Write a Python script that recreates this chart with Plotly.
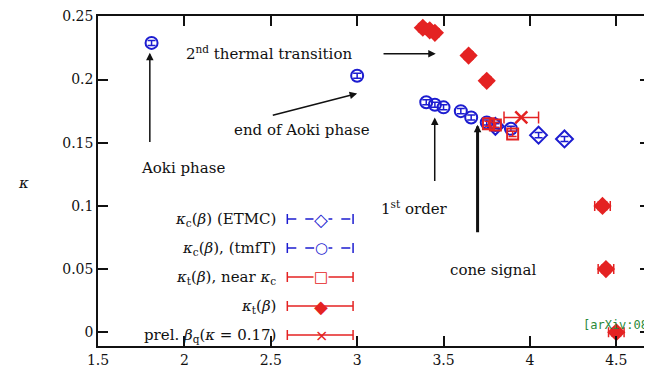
import plotly.graph_objects as go

# ---------------- data ----------------
etmc_beta = [3.80, 4.05, 4.20]
etmc_kappa = [0.163, 0.156, 0.153]

tmft_beta = [1.81, 3.00, 3.40, 3.45, 3.50, 3.60, 3.66, 3.75, 3.80, 3.89]
tmft_kappa = [0.229, 0.203, 0.182, 0.180, 0.178, 0.175, 0.170, 0.166, 0.164, 0.161]

near_beta = [3.76, 3.80, 3.90]
near_kappa = [0.165, 0.164, 0.157]

kt_beta = [3.38, 3.42, 3.45, 3.645, 3.75, 4.42, 4.44, 4.50]
kt_kappa = [0.241, 0.239, 0.237, 0.219, 0.199, 0.100, 0.050, 0.000]
kt_xerr = [0.02, 0.02, 0.02, 0.02, 0.02, 0.045, 0.045, 0.045]

bq_beta = [3.95]
bq_kappa = [0.170]
bq_xerr = [0.10]

x_ticks = [1.5, 2, 2.5, 3, 3.5, 4, 4.5]
x_ticklabels = ["1.5", "2", "2.5", "3", "3.5", "4", "4.5"]
y_ticks = [0, 0.05, 0.1, 0.15, 0.2, 0.25]
y_ticklabels = ["0", "0.05", "0.1", "0.15", "0.2", "0.25"]

legend_labels = [
    "<i>κ</i><sub>c</sub>(<i>β</i>) (ETMC)",
    "<i>κ</i><sub>c</sub>(<i>β</i>), (tmfT)",
    "<i>κ</i><sub>t</sub>(<i>β</i>), near <i>κ</i><sub>c</sub>",
    "<i>κ</i><sub>t</sub>(<i>β</i>)",
    "prel. <i>β</i><sub>q</sub>(<i>κ</i> = 0.17)",
]
legend_glyphs = ["◇", "○", "□", "◆", "×"]
legend_glyph_sizes = [18, 15, 15, 18, 16]

BLUE = "#1c1cd0"
RED = "#e42222"
FONT = "DejaVu Serif"

# page offset of the plot div (browser body margin)
OFF = 8

# ---------------- figure ----------------
fig = go.Figure()

fig.add_trace(go.Scatter(
    x=etmc_beta, y=etmc_kappa, mode="markers",
    marker=dict(symbol="diamond-open", size=13, color=BLUE, line=dict(width=2)),
    error_y=dict(type="constant", value=0.002, color=BLUE, thickness=1.5, width=4),
))
fig.add_trace(go.Scatter(
    x=tmft_beta, y=tmft_kappa, mode="markers",
    marker=dict(symbol="circle-open", size=12, color=BLUE, line=dict(width=2)),
    error_y=dict(type="constant", value=0.002, color=BLUE, thickness=1.5, width=4),
))
fig.add_trace(go.Scatter(
    x=near_beta, y=near_kappa, mode="markers",
    marker=dict(symbol="square-open", size=11, color=RED, line=dict(width=2)),
    error_y=dict(type="constant", value=0.002, color=RED, thickness=1.5, width=4),
))
fig.add_trace(go.Scatter(
    x=kt_beta, y=kt_kappa, mode="markers",
    marker=dict(symbol="diamond", size=14, color=RED),
    error_x=dict(type="data", array=kt_xerr, color=RED, thickness=1.5, width=5),
    error_y=dict(type="constant", value=0.003, color=RED, thickness=1.5, width=5),
))
fig.add_trace(go.Scatter(
    x=bq_beta, y=bq_kappa, mode="markers",
    marker=dict(symbol="x-thin-open", size=12, color=RED, line=dict(width=2.5, color=RED)),
    error_x=dict(type="data", array=bq_xerr, color=RED, thickness=1.5, width=6),
))

# ---------------- annotations ----------------
txt = dict(family=FONT, size=15, color="#111111")
ann = []
ann.append(dict(x=2.49, y=0.221, xref="x", yref="y", text="2<sup>nd</sup> thermal transition",
                showarrow=False, font=txt))
ann.append(dict(x=2.68, y=0.1597, xref="x", yref="y", text="end of Aoki phase",
                showarrow=False, font=txt))
ann.append(dict(x=1.99, y=0.1296, xref="x", yref="y", text="Aoki phase",
                showarrow=False, font=txt))
ann.append(dict(x=3.33, y=0.0986, xref="x", yref="y", text="1<sup>st</sup> order",
                showarrow=False, font=txt))
ann.append(dict(x=3.785, y=0.049, xref="x", yref="y", text="cone signal",
                showarrow=False, font=txt))

arrows = [
    # (tail_x, tail_y, head_x, head_y, width, headsize)
    (3.144, 0.2205, 3.455, 0.2205, 1.5, 1),
    (2.503, 0.1715, 3.00, 0.189, 1.5, 1),
    (1.80, 0.1494, 1.80, 0.2213, 1.5, 1),
    (3.449, 0.1185, 3.449, 0.170, 1.5, 1),
    (3.697, 0.078, 3.697, 0.1643, 3, 0.5),
]
for tx, ty, hx, hy, w, hs in arrows:
    ann.append(dict(x=hx, y=hy, ax=tx, ay=ty, xref="x", yref="y", axref="x", ayref="y",
                    text="", showarrow=True, arrowhead=2, arrowsize=hs, arrowwidth=w,
                    arrowcolor="#111111"))

# manual legend (gnuplot style: text on the left, sample on the right)
W, H, L, B = 554.0, 330.0, 98.0, 29.0
def px(xp):
    return (xp - L) / W
def py(yp):
    return (375 - B - yp) / H

ann.append(dict(x=px(583), y=py(325), xref="paper", yref="paper", text="[arXiv:08",
                xanchor="left", yanchor="middle", showarrow=False,
                font=dict(family="DejaVu Sans Mono", size=12, color="#2a8a3a")))

rows = [219, 248, 277, 306, 335]
styles = [(BLUE, "dash"), (BLUE, "dash"), (RED, "solid"), (RED, "solid"), (RED, "solid")]
shapes = []
for lab, glyph, gs, r, (col, dash) in zip(legend_labels, legend_glyphs, legend_glyph_sizes,
                                          rows, styles):
    ann.append(dict(x=px(279), y=py(r), xref="paper", yref="paper", text=lab,
                    xanchor="right", yanchor="middle", showarrow=False, font=txt))
    shapes.append(dict(type="line", xref="paper", yref="paper", x0=px(288), x1=px(354),
                       y0=py(r), y1=py(r), line=dict(color=col, width=1.5, dash=dash)))
    for xe in (288, 354):
        shapes.append(dict(type="line", xref="paper", yref="paper", x0=px(xe), x1=px(xe),
                           y0=py(r - 5), y1=py(r + 5), line=dict(color=col, width=1.5)))
    a = dict(x=px(322), y=py(r), xref="paper", yref="paper", text=glyph,
             xanchor="center", yanchor="middle", showarrow=False,
             font=dict(family="DejaVu Sans", size=gs, color=col))
    if glyph in "◇○□":
        a["bgcolor"] = "white"
        a["borderpad"] = 0
    ann.append(a)

ann.append(dict(x=px(16), y=py(183), xref="paper", yref="paper", text="<i>κ</i>",
                showarrow=False, font=dict(family=FONT, size=15, color="#111111")))

axis_common = dict(showline=True, linecolor="#111111", linewidth=1.5, mirror="ticks",
                   ticks="inside", ticklen=10, tickwidth=1.5, tickcolor="#111111",
                   showgrid=False, zeroline=False,
                   tickfont=dict(family=FONT, size=14, color="#111111"))

fig.update_layout(
    width=652 - OFF, height=375 - OFF,
    margin=dict(l=98 - OFF, r=0, t=16 - OFF, b=29),
    paper_bgcolor="white", plot_bgcolor="white",
    showlegend=False,
    xaxis=dict(range=[1.5, 4.695], tickvals=x_ticks, ticktext=x_ticklabels, **axis_common),
    yaxis=dict(range=[-0.0109, 0.2503], tickvals=y_ticks, ticktext=y_ticklabels, **axis_common),
    annotations=ann,
    shapes=shapes,
)

fig.write_html("out.html")
